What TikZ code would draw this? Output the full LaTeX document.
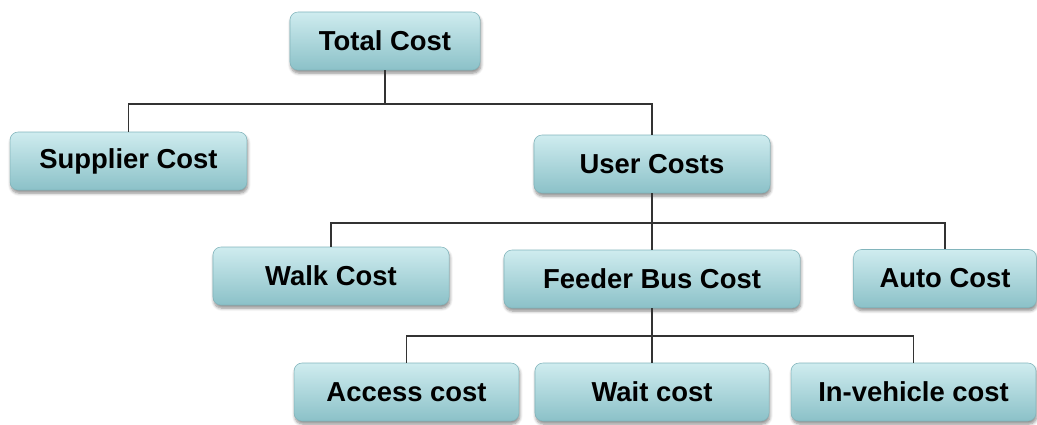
\documentclass[tikz,border=0pt]{standalone}
\usepackage{fontspec}
\setmainfont{Liberation Sans}
\usepackage{tikz}
\usetikzlibrary{shadows.blur}
\definecolor{boxtop}{HTML}{CFECEF}
\definecolor{boxbottom}{HTML}{8BC1C8}
\definecolor{boxedge}{HTML}{82B5BC}
\definecolor{linkgray}{HTML}{333333}
\tikzset{costbox/.style={draw=boxedge, line width=0.4pt, rounded corners=0.2cm, top color=boxtop, bottom color=boxbottom, minimum height=1.45cm, inner sep=0pt, font=\fontsize{19.5}{22}\selectfont\bfseries, text=black, blur shadow={shadow xshift=0.6pt, shadow yshift=-2.2pt, shadow opacity=45, shadow blur steps=6}}}
\tikzset{link/.style={draw=linkgray, line width=1.1pt}}

\begin{document}
\begin{tikzpicture}[x=0.025cm, y=-0.025cm]
	\useasboundingbox (0,0) rectangle (1037,424);

	% Splitting points of the tree
	\coordinate (split1) at (385,104);
	\coordinate (split2) at (652,223);
	\coordinate (split3) at (652,336);

	% Default action for each node
	\tikzstyle{every node}=[costbox];

	\node[minimum width=4.75cm] (total) at (385,41) {Total Cost};
	\node[minimum width=5.92cm] (supplier) at (128.5,161) {Supplier Cost};	\node[minimum width=5.9cm] (user) at (652,164) {User Costs};
	\node[minimum width=5.9cm] (walk) at (331,276) {Walk Cost};	\node[minimum width=7.4cm] (feeder) at (652,279) {Feeder Bus Cost};	\node[minimum width=4.57cm] (auto) at (945,278.5) {Auto Cost};
	\node[minimum width=5.62cm] (access) at (406.5,392) {Access cost};	\node[minimum width=5.85cm] (wait) at (652,392) {Wait cost};	\node[minimum width=6.12cm] (invehicle) at (913.5,392) {In-vehicle cost};

	% First level
	\draw[link] (total) -- (split1);
	\draw[link] (split1) -| (supplier);
	\draw[link] (split1) -| (user);

	% Second level
	\draw[link] (user) -- (split2);
	\draw[link] (split2) -| (walk);
	\draw[link] (split2) -- (feeder);
	\draw[link] (split2) -| (auto);

	% Third level
	\draw[link] (feeder) -- (split3);
	\draw[link] (split3) -| (access);
	\draw[link] (split3) -- (wait);
	\draw[link] (split3) -| (invehicle);
\end{tikzpicture}
\end{document}
